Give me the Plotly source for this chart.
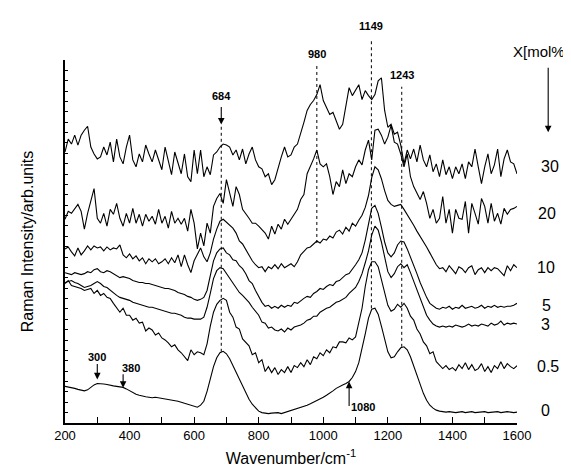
import plotly.graph_objects as go

# wavenumber grid (cm^-1), one reading every 10 cm^-1
wavenumber = list(range(200, 1601, 10))

# stacked Raman spectra (arb. units, offset per curve)
raman_30 = [274, 287, 282, 291, 281, 291, 296, 300, 279, 272,
            267, 269, 279, 271, 284, 264, 287, 269, 262, 279,
            291, 266, 259, 272, 264, 281, 272, 264, 276, 267,
            256, 279, 264, 251, 274, 262, 252, 272, 249, 244,
            276, 252, 276, 249, 259, 251, 271, 274, 279, 282,
            281, 279, 271, 276, 266, 277, 262, 272, 279, 266,
            259, 257, 249, 252, 241, 246, 259, 269, 279, 269,
            271, 279, 282, 292, 304, 316, 322, 326, 332, 342,
            326, 319, 312, 314, 306, 297, 302, 322, 339, 331,
            337, 342, 327, 336, 331, 327, 332, 346, 349, 316,
            299, 302, 292, 294, 281, 262, 276, 267, 277, 264,
            281, 266, 259, 271, 254, 262, 249, 266, 251, 259,
            247, 259, 252, 262, 247, 264, 259, 277, 259, 242,
            259, 272, 252, 261, 277, 249, 267, 276, 264, 262,
            252]
raman_20 = [206, 214, 212, 217, 221, 214, 196, 212, 226, 237,
            207, 202, 212, 199, 216, 211, 222, 207, 199, 212,
            202, 217, 202, 211, 199, 211, 204, 209, 201, 216,
            202, 209, 197, 214, 202, 207, 201, 207, 194, 216,
            202, 176, 192, 179, 202, 192, 219, 227, 232, 222,
            246, 232, 219, 239, 231, 216, 212, 207, 202, 202,
            199, 196, 192, 186, 199, 191, 201, 196, 206, 201,
            206, 212, 216, 226, 231, 252, 259, 267, 276, 262,
            259, 262, 249, 231, 244, 239, 256, 242, 252, 249,
            259, 266, 261, 276, 286, 266, 296, 297, 291, 282,
            289, 301, 284, 282, 272, 259, 272, 249, 239, 232,
            226, 234, 222, 207, 216, 202, 207, 229, 202, 216,
            192, 216, 207, 206, 224, 192, 222, 212, 201, 227,
            219, 202, 222, 204, 212, 201, 217, 211, 216, 217,
            219]
raman_10 = [176, 178, 173, 169, 177, 170, 174, 179, 175, 179,
            177, 178, 174, 178, 175, 177, 176, 180, 170, 167,
            171, 166, 169, 164, 167, 161, 166, 163, 166, 161,
            163, 166, 161, 167, 162, 170, 158, 170, 160, 152,
            164, 170, 177, 168, 163, 172, 186, 196, 204, 206,
            203, 200, 197, 192, 184, 181, 175, 169, 164, 160,
            157, 158, 153, 158, 156, 160, 156, 161, 157, 159,
            161, 158, 163, 170, 174, 177, 178, 181, 184, 182,
            186, 185, 189, 187, 193, 195, 191, 198, 194, 202,
            199, 205, 210, 218, 230, 248, 259, 256, 247, 235,
            225, 221, 219, 220, 221, 216, 211, 205, 200, 194,
            189, 184, 178, 172, 166, 160, 156, 157, 153, 159,
            155, 151, 158, 156, 152, 157, 159, 150, 155, 157,
            152, 157, 154, 157, 156, 153, 149, 159, 154, 160,
            157]
raman_5 = [152, 151, 150, 152, 151, 150, 151, 153, 152, 155,
           156, 153, 152, 154, 153, 151, 149, 147, 148, 147,
           146, 144, 143, 142, 142, 141, 141, 140, 139, 138,
           137, 136, 136, 135, 134, 132, 131, 130, 128, 127,
           125, 124, 125, 127, 134, 149, 164, 172, 176, 177,
           172, 170, 165, 164, 159, 156, 151, 144, 141, 134,
           128, 122, 118, 119, 116, 118, 116, 119, 117, 119,
           118, 122, 121, 124, 126, 128, 127, 131, 133, 136,
           135, 138, 140, 139, 143, 144, 147, 150, 151, 155,
           160, 165, 172, 185, 203, 217, 220, 212, 198, 183,
           172, 168, 172, 180, 184, 183, 176, 168, 160, 151,
           142, 134, 127, 121, 118, 116, 115, 117, 116, 118,
           115, 117, 116, 119, 116, 117, 118, 116, 117, 119,
           116, 118, 117, 119, 117, 118, 117, 118, 118, 119,
           121]
raman_3 = [142, 143, 144, 142, 141, 139, 137, 138, 139, 141,
           143, 141, 138, 137, 134, 131, 129, 127, 126, 125,
           124, 122, 121, 120, 119, 118, 117, 117, 116, 115,
           114, 113, 112, 111, 111, 110, 109, 107, 106, 106,
           105, 105, 105, 107, 117, 131, 146, 154, 157, 156,
           151, 147, 141, 136, 132, 129, 126, 122, 117, 113,
           109, 102, 101, 96, 97, 94, 93, 95, 92, 96,
           94, 97, 98, 99, 101, 104, 105, 108, 108, 112,
           114, 116, 117, 120, 122, 123, 125, 127, 131, 134,
           137, 143, 151, 162, 174, 190, 199, 195, 183, 168,
           153, 147, 151, 158, 161, 157, 160, 152, 143, 134,
           125, 116, 109, 104, 100, 98, 97, 98, 97, 98,
           97, 99, 98, 97, 98, 100, 98, 99, 98, 100,
           99, 98, 101, 99, 100, 103, 99, 101, 100, 101,
           100]
raman_05 = [141, 144, 139, 138, 137, 136, 134, 135, 136, 131,
            134, 129, 131, 127, 126, 121, 117, 112, 116, 109,
            109, 104, 106, 101, 102, 93, 96, 94, 89, 91,
            86, 84, 81, 77, 79, 74, 71, 67, 63, 74,
            69, 72, 71, 69, 80, 98, 112, 120, 124, 126,
            124, 112, 107, 97, 95, 85, 81, 78, 69, 71,
            61, 64, 52, 57, 51, 56, 49, 54, 51, 57,
            51, 58, 56, 61, 57, 64, 59, 67, 65, 71,
            68, 74, 71, 77, 76, 82, 82, 81, 86, 84,
            87, 102, 116, 138, 155, 163, 163, 158, 145, 130,
            119, 113, 115, 120, 117, 121, 116, 108, 104, 95,
            90, 82, 78, 70, 72, 62, 58, 55, 58, 54,
            56, 53, 59, 55, 61, 54, 59, 53, 55, 60,
            52, 57, 51, 58, 55, 62, 55, 60, 57, 55,
            58]
raman_0 = [37, 36.5, 36, 35, 34, 33, 32.5, 33.5, 36, 38.5,
           40, 40, 39.5, 39, 38, 37.5, 37, 36.5, 36, 34.5,
           32.5, 30.5, 29, 28, 27, 26.5, 26, 25.5, 26, 25.5,
           25, 24.5, 24, 23.5, 22.5, 22, 21, 20, 19, 18,
           16.5, 16, 18, 22, 32, 45, 57, 66, 71, 72.5,
           70, 65, 58, 51, 44, 37, 30, 24, 19, 15,
           12, 10.5, 10, 9.5, 10, 10, 10.5, 9.5, 10.5, 11.5,
           12.5, 13.5, 14.5, 16, 17, 18, 19.5, 21, 22.5, 24,
           26, 28, 30, 32.5, 35, 37, 38.5, 40, 42, 46,
           52, 61, 74, 90, 106, 115, 116, 110, 98, 84,
           72, 66, 67, 72, 76, 77, 74, 67, 58, 48,
           38, 30, 23, 18, 15, 13, 12, 11.5, 11, 11.5,
           11, 10.5, 11, 11.5, 10.5, 11, 11.5, 10.5, 11, 11,
           11.5, 10.5, 11, 11, 11.5, 10.5, 11, 11.5, 11, 10.5,
           11]

mol_percent = ['30', '20', '10', '5', '3', '0.5', '0']
spectra = [raman_30, raman_20, raman_10, raman_5, raman_3, raman_05, raman_0]

# marked bands (cm^-1)
peak_bands = [684, 980, 1149, 1243]
shoulder_bands = [300, 380, 1080]

for s in spectra:
    assert len(s) == len(wavenumber)

FONT = 'Liberation Sans, Arial, sans-serif'
Y_TOP = 367  # y axis range top

fig = go.Figure()
for name, s in zip(mol_percent, spectra):
    fig.add_trace(go.Scatter(x=wavenumber, y=s, mode='lines', name=name,
                             line=dict(color='black', width=1.1),
                             hoverinfo='skip'))


def text(x, y, s, size, xref='x'):
    fig.add_annotation(x=x, y=y, xref=xref, yref='paper', text=s,
                       showarrow=False, xanchor='center', yanchor='middle',
                       font=dict(size=size, family=FONT, color='black'))


def arrow(x, y, ay, xref='x'):
    fig.add_annotation(x=x, y=y, xref=xref, yref='paper', ax=0, ay=ay,
                       text='', showarrow=True, arrowhead=2, arrowsize=1.2,
                       arrowwidth=1.1, arrowcolor='black')


# dotted guide lines under the band labels (bottom, top in y units)
guide_spans = {684: (72, 300), 980: (182, 362), 1149: (116, 387), 1243: (77, 340)}
for band in peak_bands:
    lo, hi = guide_spans[band]
    fig.add_shape(type='line', xref='x', yref='paper', x0=band, x1=band,
                  y0=lo / Y_TOP, y1=hi / Y_TOP,
                  line=dict(color='black', width=1, dash='dot'))

# band labels (bold)
band_label_y = {684: 0.901, 980: 1.017, 1149: 1.095, 1243: 0.960}
for band in peak_bands:
    text(band, band_label_y[band], '<b>%d</b>' % band, 11)
shoulder_label = {300: (300, 0.183), 380: (404, 0.152), 1080: (1122, 0.044)}
for band in shoulder_bands:
    lx, ly = shoulder_label[band]
    text(lx, ly, '<b>%d</b>' % band, 11)

# arrows pointing at bands
arrow_tips = {684: (0.822, -19), 300: (0.120, -17), 380: (0.097, -15), 1080: (0.114, 26)}
for band, (ty, ay) in arrow_tips.items():
    arrow(band, ty, ay)

# concentration labels on the right
label_pos = [(1.072, 0.706), (1.067, 0.577), (1.064, 0.429), (1.065, 0.324),
             (1.064, 0.272), (1.069, 0.155), (1.062, 0.034)]
for name, (px, py) in zip(mol_percent, label_pos):
    text(px, py, name, 16, xref='paper')
text(1.052, 1.024, 'X[mol%]', 15, xref='paper')
arrow(1.069, 0.801, -66, xref='paper')

fig.update_layout(width=571, height=469, showlegend=False,
                  margin=dict(l=57, r=62, t=52, b=50),
                  paper_bgcolor='white', plot_bgcolor='white',
                  font=dict(family=FONT, color='black'))
fig.update_xaxes(range=[200, 1600], showline=True, linecolor='black', linewidth=1.5,
                 ticks='inside', ticklen=6, tickwidth=1, tickcolor='black',
                 tick0=200, dtick=200,
                 minor=dict(dtick=100, ticks='inside', ticklen=6, tickcolor='black'),
                 showgrid=False, zeroline=False, tickfont=dict(size=13),
                 title=dict(text='Wavenumber/cm<sup>-1</sup>', font=dict(size=16),
                            standoff=10))
fig.update_yaxes(range=[0, Y_TOP], showline=True, linecolor='black', linewidth=1.5,
                 ticks='inside', ticklen=3, tickwidth=1, tickcolor='black',
                 tick0=0, dtick=Y_TOP / 35, showticklabels=False,
                 showgrid=False, zeroline=False,
                 title=dict(text='Raman Intensity/arb.units', font=dict(size=16),
                            standoff=26))

fig.write_html("out.html")
